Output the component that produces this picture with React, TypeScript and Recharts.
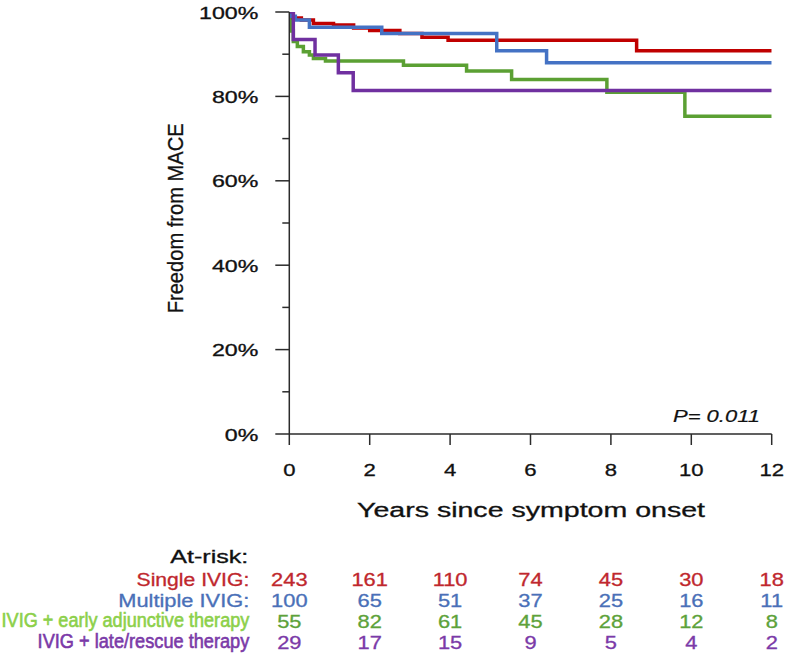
import React from 'react';
import { LineChart, Line, XAxis, YAxis } from 'recharts';

// ---------- data ----------
const xTicks = [0, 2, 4, 6, 8, 10, 12];
const yTicks = [0, 10, 20, 30, 40, 50, 60, 70, 80, 90, 100];

const singleTimes = [0, 0.1, 0.3, 0.6, 1.1, 1.6, 2.0, 2.75, 3.3, 3.95, 8.64, 12];
const singleSurv = [100, 98.6, 98.1, 97.3, 96.9, 96.2, 95.6, 94.9, 94.0, 93.3, 90.8, 90.8];

const multipleTimes = [0, 0.05, 0.15, 0.5, 2.3, 5.16, 6.4, 12];
const multipleSurv = [100, 99.0, 98.1, 96.4, 94.9, 90.8, 88.0, 88.0];

const earlyTimes = [0, 0.04, 0.1, 0.2, 0.35, 0.5, 0.6, 0.9, 2.84, 4.41, 5.53, 7.9, 9.84, 12];
const earlySurv = [100, 95.5, 93.0, 91.8, 90.6, 89.8, 89.0, 88.4, 87.4, 86.0, 84.0, 81.0, 75.3, 75.3];

const lateTimes = [0, 0.1, 0.64, 1.22, 1.59, 12];
const lateSurv = [100, 93.5, 89.8, 85.6, 81.4, 81.4];

const groupLabels = ['Single IVIG:', 'Multiple IVIG:', 'IVIG + early adjunctive therapy', 'IVIG + late/rescue therapy'];
const atRiskSingle = [243, 161, 110, 74, 45, 30, 18];
const atRiskMultiple = [100, 65, 51, 37, 25, 16, 11];
const atRiskEarly = [55, 82, 61, 45, 28, 12, 8];
const atRiskLate = [29, 17, 15, 9, 5, 4, 2];

const pValueText = 'P= 0.011';
const xTitle = 'Years since symptom onset';
const yTitle = 'Freedom from MACE';
const atRiskTitle = 'At-risk:';

// ---------- styles ----------
const FONT = '"Liberation Sans", Arial, Helvetica, sans-serif';
const AX = '#2b2b2b';
const curveColors = { single: '#C00000', multiple: '#4472C4', early: '#5BA033', late: '#7030A0' };
const numColors = ['#C0272D', '#4A70B8', '#5DA23A', '#7B3AA8'];
const labelColors = ['#C0272D', '#4A70B8', '#8CD04A', '#7B3AA8'];
const labelWidths = [112.7, 131, 247.7, 211.7];
const labelSizes = [17.5, 17.5, 20, 20];
const labelStrokes = [0.3, 0.3, 0.6, 0.6];
const rowOffsets = [152, 173, 194, 215];

const build = (ts: number[], ss: number[]) => ts.map((t, i) => ({ t, s: ss[i] }));
const singleData = build(singleTimes, singleSurv);
const multipleData = build(multipleTimes, multipleSurv);
const earlyData = build(earlyTimes, earlySurv);
const lateData = build(lateTimes, lateSurv);
const atRiskRows = [atRiskSingle, atRiskMultiple, atRiskEarly, atRiskLate];

const XTick = (props: any) => {
  const { x, y, payload } = props;
  const idx = xTicks.indexOf(payload.value);
  return (
    <g>
      <line x1={x} x2={x} y1={y} y2={y + 11} stroke={AX} strokeWidth={1.5} />
      <text transform={`translate(${x},${y + 42}) scale(1.3,1)`} textAnchor="middle" fontSize={17} fontFamily={FONT} fill="#111" stroke="#111" strokeWidth={0.3}>
        {payload.value}
      </text>
      {atRiskRows.map((row, i) => (
        <text key={i} transform={`translate(${x},${y + rowOffsets[i]}) scale(1.25,1)`} textAnchor="middle" fontSize={17.5} fontFamily={FONT} fill={numColors[i]} stroke={numColors[i]} strokeWidth={0.3}>
          {row[idx]}
        </text>
      ))}
      {idx === 0 && (
        <g>
          <text x={x - 41} y={y + 129} textAnchor="end" fontSize={17.5} fontFamily={FONT} fill="#111" stroke="#111" strokeWidth={0.3} textLength={78} lengthAdjust="spacingAndGlyphs">
            {atRiskTitle}
          </text>
          {groupLabels.map((lab, i) => (
            <text key={i} x={x - 40} y={y + rowOffsets[i] + (i >= 2 ? -1 : 0)} textAnchor="end" fontSize={labelSizes[i]} fontFamily={FONT} fill={labelColors[i]} stroke={labelColors[i]} strokeWidth={labelStrokes[i]} textLength={labelWidths[i]} lengthAdjust="spacingAndGlyphs">
              {lab}
            </text>
          ))}
        </g>
      )}
    </g>
  );
};

const YTick = (props: any) => {
  const { x, y, payload } = props;
  const v = payload.value;
  const major = v % 20 === 0;
  return (
    <g>
      <line x1={x - (major ? 14 : 7)} x2={x} y1={y} y2={y} stroke={AX} strokeWidth={1.5} />
      {major && (
        <text transform={`translate(${x - 31},${y + 6.5}) scale(1.45,1)`} textAnchor="end" fontSize={16} fontFamily={FONT} fill="#111" stroke="#111" strokeWidth={0.3}>
          {`${v}%`}
        </text>
      )}
    </g>
  );
};

const YTitle = () => (
  <text transform="translate(183.3,218.3) rotate(-90)" textAnchor="middle" fontSize={22} fontFamily={FONT} fill="#111" stroke="#111" strokeWidth={0.3} textLength={190} lengthAdjust="spacingAndGlyphs">
    {yTitle}
  </text>
);

const XTitle = () => (
  <g>
    <text x={531} y={517} textAnchor="middle" fontSize={20} fontFamily={FONT} fill="#111" stroke="#111" strokeWidth={0.3} textLength={348} lengthAdjust="spacingAndGlyphs">
      {xTitle}
    </text>
    <text x={673} y={422} textAnchor="start" fontSize={16} fontStyle="italic" fontFamily={FONT} fill="#111" stroke="#111" strokeWidth={0.2} textLength={87} lengthAdjust="spacingAndGlyphs">
      {pValueText}
    </text>
  </g>
);

export default function App() {
  return (
    <div style={{ position: 'absolute', left: 0, top: 0, width: 788, height: 657, background: '#fff' }}>
      <LineChart width={788} height={657} margin={{ top: 12, right: 16.3, bottom: 0, left: 229.3 }}>
        <XAxis
          dataKey="t"
          type="number"
          domain={[0, 12]}
          ticks={xTicks}
          interval={0}
          height={223}
          tickSize={0}
          tickMargin={0}
          tickLine={false}
          axisLine={{ stroke: AX, strokeWidth: 1.5 }}
          tick={<XTick />}
          label={<XTitle />}
          allowDataOverflow
        />
        <YAxis
          type="number"
          domain={[0, 100]}
          ticks={yTicks}
          interval={0}
          width={60}
          tickSize={0}
          tickMargin={0}
          tickLine={false}
          axisLine={{ stroke: AX, strokeWidth: 1.5 }}
          tick={<YTick />}
          label={<YTitle />}
          allowDataOverflow
        />
        <Line data={earlyData} dataKey="s" type="stepAfter" stroke={curveColors.early} strokeWidth={3.5} dot={false} isAnimationActive={false} />
        <Line data={singleData} dataKey="s" type="stepAfter" stroke={curveColors.single} strokeWidth={3.5} dot={false} isAnimationActive={false} />
        <Line data={multipleData} dataKey="s" type="stepAfter" stroke={curveColors.multiple} strokeWidth={3.5} dot={false} isAnimationActive={false} />
        <Line data={lateData} dataKey="s" type="stepAfter" stroke={curveColors.late} strokeWidth={3.5} dot={false} isAnimationActive={false} />
      </LineChart>
    </div>
  );
}
